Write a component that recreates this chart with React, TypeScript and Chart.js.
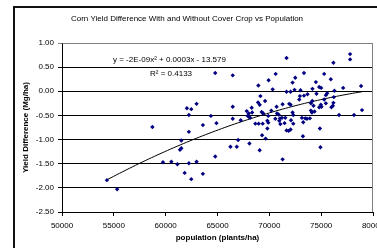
import React, { useEffect, useRef } from "react";
import { Chart, registerables } from "chart.js";

Chart.register(...registerables);

const chartTitle = "Corn Yield Difference With and Without Cover Crop vs Population";
const xAxisTitle = "population (plants/ha)";
const yAxisTitle = "Yield Difference (Mg/ha)";
const equationText = "y = -2E-09x\u00B2 + 0.0003x - 13.579";
const rSquaredText = "R\u00B2 = 0.4133";

const xTickValues = [50000, 55000, 60000, 65000, 70000, 75000, 80000];
const yTickValues = [-2.5, -2.0, -1.5, -1.0, -0.5, 0.0, 0.5, 1.0];

const populations = [
  54330, 55320, 58720, 59740, 60550, 61130, 62240, 62980, 61830, 62470,
  63590, 64780, 62050, 62470, 62240, 62980, 62240, 61510, 61380, 61510,
  69070, 71280, 71660, 77790, 77790, 76180, 64780, 66470, 70610, 73340,
  75290, 72500, 75930, 69930, 72240, 74490, 68940, 74810, 75000, 77120,
  78850, 70320, 71660, 72050, 72430, 73010, 74160, 73680, 74550, 75580,
  76280, 69140, 72950, 72890, 73340, 75290, 75450, 76220, 68910, 69590,
  74140, 74010, 74970, 75450, 76180, 66470, 68300, 69070, 70700, 71280,
  71920, 72050, 74260, 74360, 74810, 75030, 75990, 76130, 67820, 67910,
  68010, 68340, 69260, 69420, 70190, 70740, 70890, 72240, 74010, 74110,
  64360, 66470, 67240, 68050, 68140, 69900, 70580, 71030, 71220, 71540,
  72310, 73140, 73460, 73630, 73910, 76730, 78170, 78940, 64900, 63590,
  68650, 68970, 69360, 69810, 69900, 70960, 71060, 71470, 72090, 72310,
  73270, 69810, 71660, 71860, 72050, 74880, 69300, 69640, 73240, 66990,
  66860, 66250, 68080, 74930,
];

const yieldDiffs = [
  -1.84, -2.03, -0.74, -1.47, -1.46, -1.51, -1.49, -1.46, -1.69, -1.82,
  -1.71, -1.35, -0.35, -0.37, -0.49, -0.26, -0.84, -1.02, -1.21, -1.18,
  -1.22, -1.41, 0.69, 0.77, 0.66, 0.59, 0.38, 0.33, 0.36, 0.38,
  0.36, 0.28, 0.25, 0.23, 0.18, 0.19, 0.12, 0.09, 0.07, 0.07,
  0.11, 0.04, -0.01, -0.01, 0.03, 0.02, 0.05, -0.06, -0.05, -0.04,
  0.01, -0.10, -0.10, -0.17, -0.09, -0.17, -0.08, -0.12, -0.23, -0.20,
  -0.20, -0.25, -0.28, -0.25, -0.24, -0.32, -0.34, -0.28, -0.32, -0.27,
  -0.26, -0.28, -0.30, -0.42, -0.33, -0.32, -0.33, -0.30, -0.41, -0.51,
  -0.46, -0.44, -0.43, -0.46, -0.40, -0.46, -0.48, -0.44, -0.40, -0.44,
  -0.51, -0.57, -0.60, -0.53, -0.55, -0.51, -0.57, -0.56, -0.55, -0.55,
  -0.49, -0.55, -0.56, -0.57, -0.56, -0.49, -0.49, -0.39, -0.66, -0.70,
  -0.67, -0.67, -0.67, -0.61, -0.65, -0.61, -0.68, -0.66, -0.60, -0.67,
  -0.64, -0.77, -0.81, -0.82, -0.79, -0.77, -0.91, -0.98, -0.93, -1.01,
  -1.15, -1.15, -1.08, -1.16,
];

const FONT = "'Liberation Sans', Arial, sans-serif";

// Quadratic least-squares trendline fitted to the scatter data (as the spreadsheet does)
function quadFit(xs: number[], ys: number[]) {
  const n = Math.min(xs.length, ys.length);
  const s = 10000;
  let S0 = 0, S1 = 0, S2 = 0, S3 = 0, S4 = 0, T0 = 0, T1 = 0, T2 = 0;
  for (let i = 0; i < n; i++) {
    const u = xs[i] / s, y = ys[i];
    S0 += 1; S1 += u; S2 += u * u; S3 += u * u * u; S4 += u * u * u * u;
    T0 += y; T1 += u * y; T2 += u * u * y;
  }
  const M = [
    [S4, S3, S2, T2],
    [S3, S2, S1, T1],
    [S2, S1, S0, T0],
  ];
  for (let c = 0; c < 3; c++) {
    let p = c;
    for (let r = c + 1; r < 3; r++) if (Math.abs(M[r][c]) > Math.abs(M[p][c])) p = r;
    [M[c], M[p]] = [M[p], M[c]];
    for (let r = 0; r < 3; r++) {
      if (r === c) continue;
      const f = M[r][c] / M[c][c];
      for (let k = c; k < 4; k++) M[r][k] -= f * M[c][k];
    }
  }
  const a = M[0][3] / M[0][0], b = M[1][3] / M[1][1], c0 = M[2][3] / M[2][2];
  return (x: number) => { const u = x / s; return a * u * u + b * u + c0; };
}

const framePlugin = {
  id: "frame",
  afterDatasetsDraw(chart: any) {
    const { ctx } = chart;
    ctx.save();
    ctx.fillStyle = "#000000";
    ctx.font = `8px ${FONT}`;
    ctx.textBaseline = "middle";
    ctx.textAlign = "left";
    ctx.fillText(equationText, 113, 60);
    ctx.fillText(rSquaredText, 150, 74);
    ctx.restore();
  },
  afterDraw(chart: any) {
    const { ctx, chartArea } = chart;
    ctx.save();
    ctx.lineWidth = 1;
    ctx.strokeStyle = "#808080";
    const r = Math.round(chartArea.right) - 0.5;
    ctx.beginPath();
    ctx.moveTo(Math.round(chartArea.left) + 0.5, Math.round(chartArea.top) + 0.5);
    ctx.lineTo(r, Math.round(chartArea.top) + 0.5);
    ctx.lineTo(r, Math.round(chartArea.bottom));
    ctx.stroke();
    ctx.restore();
  },
};

export default function App() {
  const ref = useRef<HTMLCanvasElement | null>(null);

  useEffect(() => {
    if (!ref.current) return;
    const n = Math.min(populations.length, yieldDiffs.length);
    const points = [] as { x: number; y: number }[];
    for (let i = 0; i < n; i++) points.push({ x: populations[i], y: yieldDiffs[i] });
    const fit = quadFit(populations, yieldDiffs);
    const xmin = Math.min(...populations.slice(0, n));
    const xmax = Math.max(...populations.slice(0, n));
    const trend = [] as { x: number; y: number }[];
    const steps = 80;
    for (let i = 0; i <= steps; i++) {
      const x = xmin + ((xmax - xmin) * i) / steps;
      trend.push({ x, y: fit(x) });
    }

    const chart = new Chart(ref.current, {
      type: "scatter",
      data: {
        datasets: [
          {
            label: "data",
            data: points,
            pointStyle: "rectRot",
            pointRadius: 2.2,
            pointBackgroundColor: "#000080",
            pointBorderColor: "#000080",
            pointBorderWidth: 0,
            showLine: false,
            order: 1,
          },
          {
            label: "trend",
            data: trend,
            showLine: true,
            borderColor: "#000000",
            borderWidth: 1,
            pointRadius: 0,
            fill: false,
            order: 2,
          } as any,
        ],
      },
      options: {
        responsive: false,
        animation: false,
        devicePixelRatio: 1,
        layout: { padding: { left: 0, right: 3, top: 0, bottom: 0 } },
        plugins: {
          legend: { display: false },
          tooltip: { enabled: false },
          title: {
            display: true,
            text: chartTitle,
            color: "#000000",
            font: { family: FONT, size: 8, weight: "normal", lineHeight: 1.2 },
            padding: { top: 14, bottom: 19.4 },
          },
        },
        scales: {
          x: {
            type: "linear",
            min: xTickValues[0],
            max: xTickValues[xTickValues.length - 1],
            afterBuildTicks: (s: any) => { s.ticks = xTickValues.map((v) => ({ value: v })); },
            afterFit: (s: any) => { s.height = 36; s.paddingLeft = 0; s.paddingRight = 0; },
            ticks: {
              color: "#000000",
              font: { family: FONT, size: 8, lineHeight: 1.2 },
              padding: 5,
              maxRotation: 0,
              autoSkip: false,
              callback: (v: any) => String(v),
            },
            grid: { drawOnChartArea: false, drawTicks: true, tickLength: 4, color: "#000000" },
            border: { color: "#000000", width: 1 },
            title: {
              display: true,
              text: xAxisTitle,
              color: "#000000",
              font: { family: FONT, size: 8, weight: "bold", lineHeight: 1.2 },
              padding: { top: 0, bottom: 5 },
            },
          },
          y: {
            type: "linear",
            min: yTickValues[0],
            max: yTickValues[yTickValues.length - 1],
            afterBuildTicks: (s: any) => { s.ticks = yTickValues.map((v) => ({ value: v })); },
            afterFit: (s: any) => { s.width = 62; s.paddingTop = 0; s.paddingBottom = 0; },
            ticks: {
              color: "#000000",
              font: { family: FONT, size: 8, lineHeight: 1.2 },
              padding: 4,
              autoSkip: false,
              callback: (v: any) => Number(v).toFixed(2),
            },
            grid: {
              drawOnChartArea: true,
              drawTicks: true,
              tickLength: 4,
              color: (c: any) => (c.tick && c.tick.value === 1 ? "#808080" : "#000000"),
            },
            border: { color: "#000000", width: 1 },
            title: {
              display: true,
              text: yAxisTitle,
              color: "#000000",
              font: { family: FONT, size: 8, weight: "bold", lineHeight: 1.2 },
              padding: { top: 21, bottom: 0 },
            },
          },
        },
      },
      plugins: [framePlugin],
    } as any);

    return () => chart.destroy();
  }, []);

  return (
    <div style={{ position: "fixed", left: 0, top: 0, width: 377, height: 248, background: "#ffffff", overflow: "hidden" }}>
      <div
        style={{
          position: "absolute",
          left: 13,
          top: 6,
          width: 420,
          height: 300,
          borderLeft: "2px solid #111111",
          borderTop: "2px solid #111111",
          boxSizing: "border-box",
        }}
      />
      <canvas
        ref={ref}
        width={377}
        height={248}
        style={{ position: "absolute", left: 0, top: 0, display: "block", width: 377, height: 248 }}
      />
    </div>
  );
}
